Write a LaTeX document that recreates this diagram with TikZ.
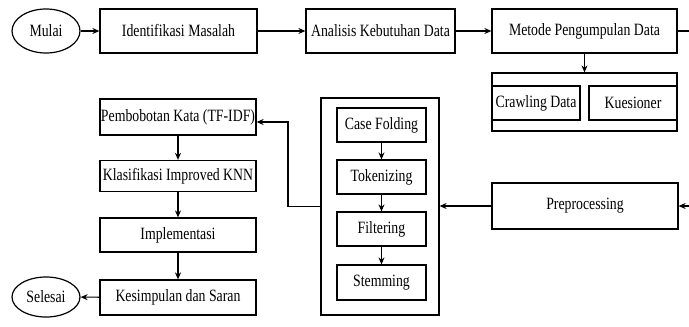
\documentclass[tikz,border=0pt]{standalone}
\usepackage{fontspec}
\usepackage{graphicx}
\setmainfont{Liberation Serif}
\usetikzlibrary{shapes.geometric,arrows.meta}
\newcommand{\tx}[1]{\scalebox{1}[1.25]{#1}}
\tikzset{
  box/.style={draw, line width=1.2pt, rectangle, inner sep=0pt, anchor=center,
    font=\fontsize{13.8}{15}\selectfont},
  oval/.style={draw, line width=1.2pt, ellipse, inner sep=0pt, anchor=center,
    font=\fontsize{13.8}{15}\selectfont},
  arr/.style={line width=1.1pt, -{Stealth[length=7pt,width=6pt]}},
  ln/.style={line width=1.1pt}
}
\begin{document}
\begin{tikzpicture}[x=1pt,y=-1pt]
\useasboundingbox (0,0) rectangle (689,327);
% top row
\node[oval, minimum width=68pt, minimum height=44pt] (mulai) at (46,31) {\tx{Mulai}};
\node[box, minimum width=157pt, minimum height=44pt] (ident) at (178.5,31) {\tx{Identifikasi Masalah}};
\node[box, minimum width=149pt, minimum height=44pt] (anal) at (380.5,31) {\tx{Analisis Kebutuhan Data}};
\node[box, minimum width=185pt, minimum height=44pt] (metode) at (584.5,31) {\tx{Metode Pengumpulan Data}};
\coordinate (rm) at (689,31);
% data collection group
\node[box, minimum width=185pt, minimum height=58pt] (ckout) at (584.5,102) {};
\node[box, minimum width=88pt, minimum height=34pt] (crawl) at (536,103) {\tx{Crawling Data}};
\node[box, minimum width=88pt, minimum height=34pt] (kues) at (633,103) {\tx{Kuesioner}};
% preprocessing group
\node[box, minimum width=118pt, minimum height=217pt] (preout) at (380,206.5) {};
\node[box, minimum width=89pt, minimum height=34pt] (case) at (381.5,125) {\tx{Case Folding}};
\node[box, minimum width=89pt, minimum height=34pt] (token) at (381.5,177) {\tx{Tokenizing}};
\node[box, minimum width=89pt, minimum height=34pt] (filt) at (381.5,229) {\tx{Filtering}};
\node[box, minimum width=89pt, minimum height=35pt] (stem) at (381.5,282.5) {\tx{Stemming}};
\node[box, minimum width=186pt, minimum height=46pt] (prep) at (585,206) {\tx{Preprocessing}};
\coordinate (rp) at (689,206);
% left column
\node[box, minimum width=156pt, minimum height=36pt] (pembo) at (178,117) {\tx{Pembobotan Kata (TF-IDF)}};
\node[box, minimum width=156pt, minimum height=31pt] (klas) at (178,176) {\tx{Klasifikasi Improved KNN}};
\node[box, minimum width=156pt, minimum height=34pt] (impl) at (178,235) {\tx{Implementasi}};
\node[box, minimum width=156pt, minimum height=35pt] (kesim) at (178,297.5) {\tx{Kesimpulan dan Saran}};
\node[oval, minimum width=68pt, minimum height=40pt] (selesai) at (46,297) {\tx{Selesai}};
\coordinate (k1) at (288,122);
% connectors
\draw[arr] (mulai) -- (ident);
\draw[arr] (ident) -- (anal);
\draw[arr] (anal) -- (metode);
\draw[ln] (metode.east) -- (rm);
\draw[arr] (metode.south) -- (ckout.north);
\draw[arr] (rp) -- (prep.east);
\draw[arr] (prep.west) -- (preout.east |- prep.west);
\draw[arr] (case) -- (token);
\draw[arr] (token) -- (filt);
\draw[arr] (filt) -- (stem);
\draw[arr] (preout.west) -| (k1) -- (k1 -| pembo.east);
\draw[arr] (pembo) -- (klas);
\draw[arr] (klas) -- (impl);
\draw[arr] (impl) -- (kesim);
\draw[arr] (kesim) -- (selesai);
\end{tikzpicture}
\end{document}
